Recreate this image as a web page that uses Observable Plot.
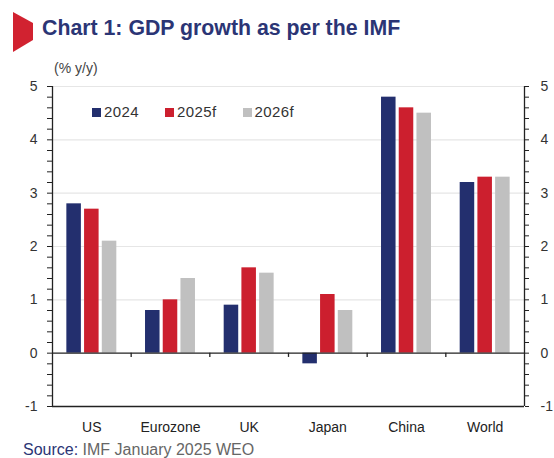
<!DOCTYPE html>
<html>
<head>
<meta charset="utf-8">
<script src="https://cdn.jsdelivr.net/npm/d3@7"></script>
<script src="https://cdn.jsdelivr.net/npm/@observablehq/plot@0.6"></script>
<style>
  html, body { margin: 0; padding: 0; background: #fff; }
  #wrap { position: relative; width: 554px; height: 458px; overflow: hidden; font-family: "Liberation Sans", Arial, sans-serif; }
  #title { position: absolute; left: 42px; top: 16px; font-size: 21.3px; font-weight: bold; color: #2b3575; line-height: 24px; white-space: nowrap; }
  #flag { position: absolute; left: 0; top: 0; }
  #sub { position: absolute; left: 54px; top: 60px; font-size: 14px; color: #444; line-height: 16px; }
  #legend { position: absolute; left: 92px; top: 103px; display: flex; align-items: center; font-size: 15px; color: #333; line-height: 18px; letter-spacing: 0.4px; }
  .item { display: flex; align-items: center; margin-right: 26px; }
  .sw { width: 9px; height: 9px; margin-right: 3px; }
  #source { position: absolute; left: 23px; top: 441px; font-size: 16px; color: #666; line-height: 18px; white-space: nowrap; }
  #source b { font-weight: normal; color: #2b3575; }
  #chart { position: absolute; left: 0; top: 0; }
</style>
</head>
<body>
<div id="wrap">
  <svg id="flag" width="40" height="60"><polygon points="13,12 33,23 33,40 13,52" fill="#d12230"/></svg>
  <div id="title">Chart 1: GDP growth as per the IMF</div>
  <div id="sub">(% y/y)</div>
  <div id="chart"></div>
  <div id="legend"></div>
  <div id="source"><b>Source:</b> IMF January 2025 WEO</div>
</div>
<script>
const categories = ["US", "Eurozone", "UK", "Japan", "China", "World"];
const series = ["2024", "2025f", "2026f"];
const v2024 = [2.8, 0.8, 0.9, -0.2, 4.8, 3.2];
const v2025 = [2.7, 1.0, 1.6, 1.1, 4.6, 3.3];
const v2026 = [2.1, 1.4, 1.5, 0.8, 4.5, 3.3];
const colors = ["#232f6e", "#cc1f2e", "#c0c0c0"];
const yTicks = [-1, 0, 1, 2, 3, 4, 5];

const values = [v2024, v2025, v2026];
const inner = d3.scaleBand().domain(series).range([0, 1]).paddingInner(0.18).paddingOuter(0.81);
const rows = [];
categories.forEach((c, i) => {
  series.forEach((s, j) => {
    rows.push({country: c, idx: i, series: s, value: values[j][i],
               x1: i + inner(s), x2: i + inner(s) + inner.bandwidth()});
  });
});

const minor = d3.range(-1, 5.0001, 0.2).map(d => Math.round(d * 10) / 10);
const seps = d3.range(1, categories.length);
const centers = categories.map((c, i) => i + 0.5);
const fmt = d => String(d);

const plot = Plot.plot({
  width: 554,
  height: 440,
  marginTop: 86,
  marginBottom: 34,
  marginLeft: 52,
  marginRight: 30,
  style: {fontFamily: "'Liberation Sans', Arial, sans-serif", fontSize: "14px", color: "#333", background: "transparent"},
  x: {domain: [0, categories.length], axis: null},
  y: {domain: [-1, 5], axis: null},
  color: {domain: series, range: colors},
  marks: [
    Plot.ruleY(yTicks.filter(d => d > 0), {stroke: "#e6e6e6", strokeWidth: 1.2}),
    Plot.rectY(rows, {x1: "x1", x2: "x2", y1: 0, y2: "value", fill: "series"}),
    Plot.ruleY([0, -1], {stroke: "#222", strokeWidth: 1.3}),
    Plot.ruleX([0, categories.length], {y1: -1, y2: 5, stroke: "#222", strokeWidth: 1.3}),
    Plot.ruleX(seps, {y1: 0, y2: -0.08, stroke: "#222", strokeWidth: 1.3}),
    Plot.axisY({ticks: minor, tickFormat: () => "", tickSize: 5, anchor: "left", stroke: "#222", label: null}),
    Plot.axisY({ticks: minor, tickFormat: () => "", tickSize: 4, anchor: "right", stroke: "#222", label: null}),
    Plot.axisY({ticks: yTicks, tickFormat: fmt, tickSize: 0, tickPadding: 15, anchor: "left", fill: "#333", fontSize: 14, label: null}),
    Plot.axisY({ticks: yTicks, tickFormat: fmt, tickSize: 0, tickPadding: 16, anchor: "right", fill: "#333", fontSize: 14, label: null}),
    Plot.axisX({ticks: centers, tickFormat: d => categories[Math.floor(d)], tickSize: 0, tickPadding: 16, anchor: "bottom", fill: "#222", fontSize: 14, label: null})
  ]
});
document.getElementById("chart").appendChild(plot);

const leg = document.getElementById("legend");
series.forEach((s, j) => {
  const it = document.createElement("div");
  it.className = "item";
  it.innerHTML = `<span class="sw" style="background:${colors[j]}"></span><span>${s}</span>`;
  leg.appendChild(it);
});
</script>
</body>
</html>
